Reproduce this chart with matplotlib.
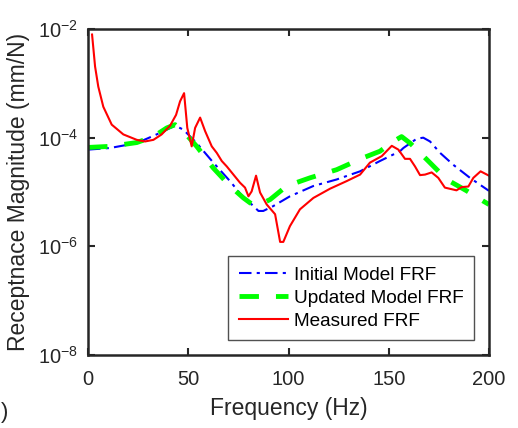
import numpy as np
import matplotlib.pyplot as plt
from matplotlib.ticker import FixedLocator, NullLocator

plt.rcParams['font.family'] = ['Liberation Sans', 'DejaVu Sans']

# frequency (Hz) and log10 of receptance magnitude (mm/N)
init_f = [0, 11, 24.3, 34.2, 43.4, 47.5, 54.2, 62.5, 70.8, 78.3, 80.8, 85, 87.4,
          92.4, 100.7, 112.4, 124, 135.7, 145.6, 155.6, 157.3, 163.9, 167.2,
          170.6, 175.6, 182.2, 190.5, 200]
init_log = [-4.22, -4.19, -4.10, -3.94, -3.78, -3.85, -4.10, -4.46, -4.80, -5.14,
            -5.20, -5.35, -5.35, -5.26, -5.08, -4.89, -4.77, -4.62, -4.43, -4.25,
            -4.19, -4.02, -4.00, -4.07, -4.28, -4.50, -4.74, -4.98]

upd_f = [0, 11, 24.3, 32.6, 39.3, 43.4, 47.5, 54.2, 62.5, 70.8, 77.5, 80.8, 84.1,
         90.8, 99.1, 110.7, 124, 137.3, 145.6, 152.3, 156.4, 160.6, 168.9, 178.9,
         188.9, 197.2, 200]
upd_log = [-4.18, -4.16, -4.09, -3.98, -3.82, -3.76, -3.88, -4.16, -4.56, -4.89,
           -5.11, -5.20, -5.26, -5.14, -4.89, -4.74, -4.59, -4.37, -4.25, -4.07,
           -3.98, -4.10, -4.40, -4.77, -4.98, -5.17, -5.23]

meas_f = [2, 3.5, 5.1, 7.6, 11.8, 17.6, 24.3, 28.4, 32.6, 36.7, 40.9, 43.9, 45.9,
          47.9, 49.5, 51.7, 53.4, 55.9, 58.4, 61.7, 64.2, 66.7, 69.2, 72.5, 75.8,
          78.3, 80, 81.6, 83.8, 85.8, 89.1, 93.3, 95.8, 97.4, 100.7, 105.7, 112.4,
          120.7, 129, 135.7, 140.6, 146.5, 151.5, 154.8, 158.1, 160.6, 163.1,
          165.6, 168.1, 171.4, 174.7, 178, 183.8, 186.4, 189.7, 192.2, 195.8, 200]
meas_log = [-2.10, -2.69, -3.06, -3.43, -3.76, -3.94, -4.04, -4.07, -4.04, -3.94,
            -3.78, -3.58, -3.33, -3.18, -3.82, -4.16, -3.82, -3.63, -3.88, -4.16,
            -4.28, -4.43, -4.53, -4.68, -4.83, -4.92, -5.08, -4.99, -4.70, -5.01,
            -5.23, -5.41, -5.92, -5.92, -5.63, -5.32, -5.11, -4.94, -4.80, -4.68,
            -4.46, -4.34, -4.15, -4.22, -4.39, -4.39, -4.53, -4.69, -4.68, -4.64,
            -4.74, -4.92, -4.97, -4.91, -4.90, -4.74, -4.62, -4.70]

fig = plt.figure(figsize=(5.18, 4.28), dpi=100)
ax = fig.add_axes([0.170, 0.171, 0.774, 0.761])

txt = '#262626'
ax.semilogy(init_f, 10 ** np.array(init_log), color='#0000ff', lw=1.5,
            ls=(0, (6, 2.5, 1.5, 2.5)), label='Initial Model FRF')
ax.semilogy(upd_f, 10 ** np.array(upd_log), color='#00ff00', lw=3.5,
            ls=(0, (4, 3.5)), label='Updated Model FRF')
ax.semilogy(meas_f, 10 ** np.array(meas_log), color='#ff0000', lw=1.5,
            label='Measured FRF')

ax.set_xlim(0, 200)
ax.set_ylim(1e-8, 1e-2)
ax.set_xticks([0, 50, 100, 150, 200])
ax.yaxis.set_major_locator(FixedLocator([1e-8, 1e-6, 1e-4, 1e-2]))
ax.yaxis.set_minor_locator(NullLocator())
ax.tick_params(direction='in', top=True, right=True, length=5, width=1.5,
               colors=txt, labelsize=14.5)
ax.tick_params(axis='x', pad=11)
ax.tick_params(axis='y', pad=7)
for s in ax.spines.values():
    s.set_linewidth(1.8)
    s.set_color(txt)

ax.set_xlabel('Frequency (Hz)', fontsize=16.5, color=txt, labelpad=6)
ax.set_ylabel('Receptnace Magnitude (mm/N)', fontsize=16.5, color=txt, labelpad=6)

leg = ax.legend(loc='lower right', bbox_to_anchor=(0.963, 0.045), fontsize=13.7,
                frameon=True, fancybox=False, edgecolor='#262626',
                handlelength=2.6, handletextpad=0.3, borderpad=0.55,
                labelspacing=0.3, borderaxespad=0)
leg.get_frame().set_linewidth(1.0)

# panel label remnant at the lower-left edge
fig.text(0.002, 0.037, ')', fontsize=16, color=txt, va='center', ha='left')

fig.savefig('out.png', dpi=100)
